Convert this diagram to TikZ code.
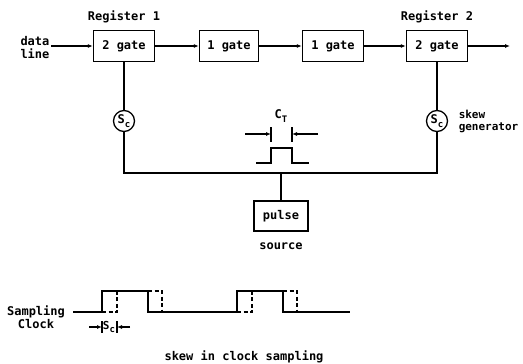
\documentclass[tikz,border=0pt]{standalone}
\usepackage{fontspec}
\setmainfont{DejaVu Sans Mono}
\usetikzlibrary{arrows.meta, positioning}

\newcommand{\lowsub}[1]{\raisebox{-0.5ex}{\fontsize{9}{9}\selectfont #1}}

\begin{document}
\begin{tikzpicture}[
    x=1pt, y=-1pt, % one unit is one pixel of the sketch, y runs down
    >={Latex[length=5pt,width=4pt]}, % Set default arrow tip style
    font=\fontsize{12}{13}\selectfont\bfseries,
    line width=1.2pt,
    gatebox/.style={draw, line width=1.3pt, minimum width=61pt, minimum height=31pt, inner sep=0pt}, % Style for gate boxes
    skewcirc/.style={draw, circle, line width=1.3pt, minimum size=21pt, inner sep=0pt}, % Style for skew generators
    labelstyle/.style={inner sep=1pt}, % Style for labels
    skewline/.style={line width=1.1pt, dash pattern=on 4pt off 2.5pt} % Style for skewed clock
]

    \useasboundingbox (0,0) rectangle (523,364);

    % Gates of the data path
    \node[gatebox] (reg1) at (124,46) {2 gate};
    \node[gatebox, minimum width=59pt] (gateA) at (229,46) {1 gate};
    \node[gatebox] (gateB) at (333,46) {1 gate};
    \node[gatebox] (reg2) at (437,46) {2 gate};

    % Register labels
    \node[labelstyle, above=5pt of reg1] (reg1lbl) {Register 1};
    \node[labelstyle, above=5pt of reg2] (reg2lbl) {Register 2};

    % Data line in and out
    \node[labelstyle, align=left, anchor=east] (dline) at (51,48) {data\\line};
    \coordinate (out) at (510,46);
    \draw[->] (dline.east |- reg1.west) -- (reg1.west);
    \draw[->] (reg1) -- (gateA);
    \draw[->] (gateA) -- (gateB);
    \draw[->] (gateB) -- (reg2);
    \draw[->] (reg2) -- (out);

    % Skew generators
    \node[skewcirc] (sc1) at (124,121) {S\lowsub{c}};
    \node[skewcirc] (sc2) at (437,121) {S\lowsub{c}};
    \node[labelstyle, align=left, right=9pt of sc2, font=\fontsize{11}{12}\selectfont\bfseries] (skewlbl) {skew\\generator};
    \draw (reg1) -- (sc1);
    \draw (reg2) -- (sc2);

    % Clock bus and pulse source
    \coordinate (bus) at (281,173);
    \node[gatebox, minimum width=54pt, minimum height=30pt] (src) at (281,216) {pulse};
    \node[labelstyle, below=10pt of src] (srclbl) {source};
    \draw (sc1) |- (bus) -| (sc2);
    \draw (bus) -- (src);

    % Pulse with its width C_T
    \draw (256,163) -- (271,163) -- (271,148) -- (292,148) -- (292,163) -- (309,163);
    \draw (271,127) -- (271,142);
    \draw (292,127) -- (292,142);
    \draw[->] (245,134) -- (271,134);
    \draw[->] (318,134) -- (292,134);
    \node[labelstyle] (ctlbl) at (281,116) {C\lowsub{T}};

    % Sampling clock, solid and skewed
    \node[labelstyle, align=center, font=\fontsize{12}{11}\selectfont\bfseries] (clk) at (36,317) {Sampling\\Clock};
    \draw (73,312) -- (102,312) -- (102,291) -- (148,291) -- (148,312) -- (237,312)
        -- (237,291) -- (283,291) -- (283,312) -- (350,312);
    \foreach \t in {102,237} {
        \draw[skewline] (\t,312) -| (\t+15,291);
        \draw[skewline] (\t+46,291) -| (\t+60,312);
    }

    % Skew S_c
    \draw (102,321) -- (102,333);
    \draw (117,321) -- (117,333);
    \draw[->] (89,327) -- (102,327);
    \draw[->] (130,327) -- (117,327);
    \node[labelstyle, font=\fontsize{11}{11}\selectfont\bfseries] (sclbl) at (109,327) {S\lowsub{c}};

    \node[labelstyle] (caption) at (244,357) {skew in clock sampling};

\end{tikzpicture}
\end{document}
